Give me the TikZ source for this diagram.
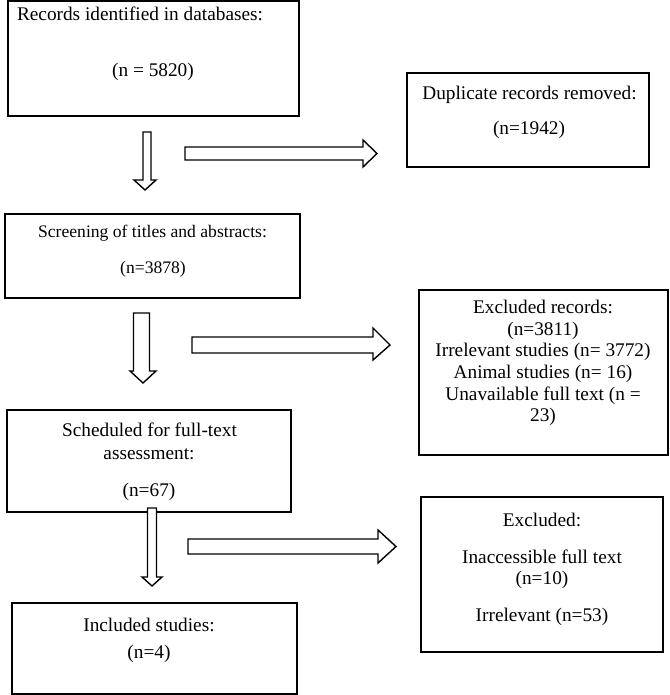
\documentclass[tikz,border=0pt]{standalone}
\usepackage{fontspec}
\setmainfont{Liberation Serif}
\begin{document}
\begin{tikzpicture}[x=1pt,y=-1pt,
  box/.style={draw, line width=1.8pt, inner sep=0pt, outer sep=0pt},
  txt/.style={inner sep=0pt, font=\fontsize{19.3}{21.6}\selectfont},
  stxt/.style={inner sep=0pt, font=\fontsize{17.6}{20}\selectfont},
  blk/.style={draw, line width=1.4pt, fill=white, line join=miter}]
\useasboundingbox[fill=white] (0,0) rectangle (669,695);
% boxes
\node[box, minimum width=291pt, minimum height=115pt] (b1) at (153.5,58.5) {};
\node[box, minimum width=242pt, minimum height=94pt] (dup) at (528,120) {};
\node[box, minimum width=295pt, minimum height=84pt] (scr) at (152.5,256) {};
\node[box, minimum width=249pt, minimum height=165pt] (exr) at (543.5,372.5) {};
\node[box, minimum width=284pt, minimum height=102pt] (sch) at (149,461) {};
\node[box, minimum width=242pt, minimum height=155pt] (exc) at (542,574.5) {};
\node[box, minimum width=285pt, minimum height=91pt] (inc) at (154.5,648.5) {};
% texts
\node[txt] (t1a) at (140,14) {Records identified in databases:};
\node[txt] (t1b) at (153,72) {(n = 5820)};
\node[txt] (t2a) at (529.5,95) {Duplicate records removed:};
\node[txt] (t2b) at (529,130) {(n=1942)};
\node[stxt] (t3a) at (152.5,233) {Screening of titles and abstracts:};
\node[stxt] (t3b) at (153,269) {(n=3878)};
\node[txt, align=center] (t4) at (543,363) {Excluded records:\\(n=3811)\\Irrelevant studies (n= 3772)\\Animal studies (n= 16)\\Unavailable full text (n =\\23)};
\node[txt] (t5a) at (149.5,430) {Scheduled for full-text};
\node[txt] (t5b) at (149,454) {assessment:};
\node[txt] (t5c) at (149,492) {(n=67)};
\node[txt] (t6a) at (542,520) {Excluded:};
\node[txt] (t6b) at (542,557) {Inaccessible full text};
\node[txt] (t6c) at (542,580) {(n=10)};
\node[txt] (t6d) at (542,617) {Irrelevant (n=53)};
\node[txt] (t7a) at (149,625) {Included studies:};
\node[txt] (t7b) at (149,654) {(n=4)};
% down block arrows
\draw[blk] (143,132) -- (151,132) -- (151,180) -- (156,180) -- (145,190) -- (134,180) -- (143,180) -- cycle;
\draw[blk] (133.5,313) -- (149.5,313) -- (149.5,371) -- (156,371) -- (143,383) -- (130,371) -- (133.5,371) -- cycle;
\draw[blk] (147.5,508) -- (156.5,508) -- (156.5,577) -- (162,577) -- (152,586) -- (142,577) -- (147.5,577) -- cycle;
% right block arrows
\draw[blk] (185,147) -- (363,147) -- (363,140) -- (377,153.5) -- (363,167) -- (363,160) -- (185,160) -- cycle;
\draw[blk] (192,337) -- (373,337) -- (373,328) -- (390,345) -- (373,360) -- (373,353) -- (192,353) -- cycle;
\draw[blk] (188,539) -- (378,539) -- (378,530) -- (396,546.5) -- (378,563) -- (378,554) -- (188,554) -- cycle;
\end{tikzpicture}
\end{document}
